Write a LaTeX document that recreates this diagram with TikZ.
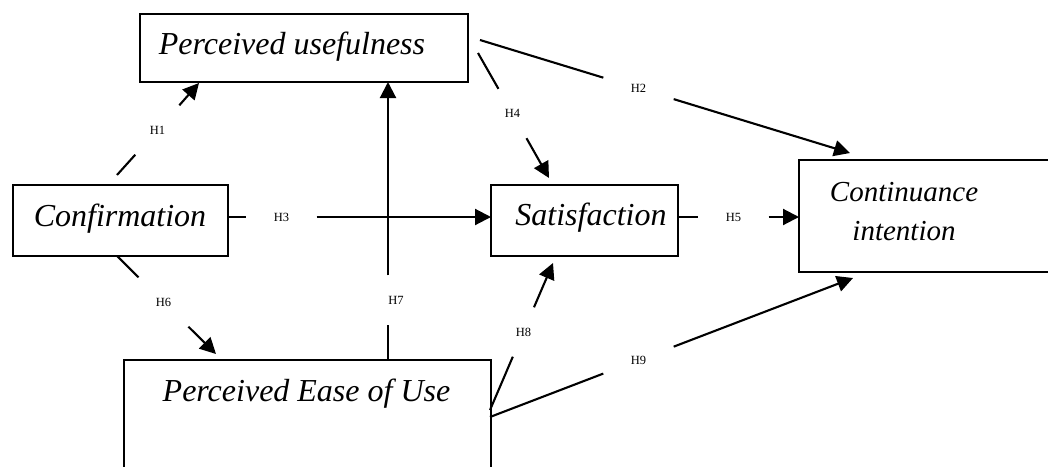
\documentclass[tikz,border=0pt]{standalone}
\usepackage{fontspec}
\setmainfont{Liberation Serif}
\usetikzlibrary{arrows.meta}
\begin{document}
\begin{tikzpicture}[x=1pt,y=-1pt,
  box/.style={draw, line width=2pt, rectangle, inner sep=0pt},
  title/.style={font=\fontsize{32}{39}\selectfont\itshape, inner sep=0pt},
  gap/.style={rectangle, minimum width=70pt, minimum height=49pt, inner sep=0pt,
              font=\fontsize{12.5}{14}\selectfont},
  link/.style={line width=2.1pt, -{Triangle[length=16pt,width=16pt]}}]
\useasboundingbox (0,0) rectangle (1048,466);

% construct boxes
\node[box, minimum width=328pt, minimum height=68pt]  (pu)   at (304,48)    {};
\node[box, minimum width=215pt, minimum height=71pt]  (conf) at (120.5,220.5) {};
\node[box, minimum width=187pt, minimum height=71pt]  (sat)  at (584.5,220.5) {};
\node[box, minimum width=261pt, minimum height=112pt] (ci)   at (929.5,216) {};
\node[box, minimum width=367pt, minimum height=120pt] (peou) at (307.5,420) {};

% box titles
\node[title, anchor=base] (tpu)   at (292,54)  {Perceived usefulness};
\node[title, anchor=base] (tconf) at (120,226) {Confirmation};
\node[title, anchor=base] (tsat)  at (591,225) {Satisfaction};
\node[title, align=center, font=\fontsize{29}{39}\selectfont\itshape] (tci) at (904,212) {Continuance\\intention};
\node[title, anchor=base] (tpeou) at (306.5,401) {Perceived Ease of Use};

% hypothesis labels (each one breaks its connector)
\node[gap] (g1) at (157.5,130)  {H1};
\node[gap] (g2) at (638.5,88.4) {H2};
\node[gap] (g3) at (281.5,217)  {H3};
\node[gap] (g4) at (512.5,113.5){H4};
\node[gap] (g5) at (733.5,217)  {H5};
\node[gap] (g6) at (163.5,302)  {H6};
\node[gap] (g7) at (388,300)    {\hspace*{16pt}H7};
\node[gap] (g8) at (523.4,332)  {H8};
\node[gap] (g9) at (638.5,360.1){H9};

% connector end points
\coordinate (s1) at (117,175);   \coordinate (e1) at (199,83);
\coordinate (s2) at (480,40);    \coordinate (e2) at (850,153);
\coordinate (s3) at (228,217);   \coordinate (e3) at (491,217);
\coordinate (s4) at (478,53);    \coordinate (e4) at (549,178);
\coordinate (s5) at (678,217);   \coordinate (e5) at (799,217);
\coordinate (s6) at (117,256);   \coordinate (e6) at (216,354);
\coordinate (s7) at (388,360);   \coordinate (e7) at (388,82);
\coordinate (s8) at (490,410);   \coordinate (e8) at (553,263);
\coordinate (s9) at (490,417);   \coordinate (e9) at (853,278);

% hypothesis paths
\draw[link] (s1) -- (g1) -- (e1);
\draw[link] (s2) -- (g2) -- (e2);
\draw[link] (s3) -- (g3) -- (e3);
\draw[link] (s4) -- (g4) -- (e4);
\draw[link] (s5) -- (g5) -- (e5);
\draw[link] (s6) -- (g6) -- (e6);
\draw[link] (s7) -- (g7) -- (e7);
\draw[link] (s8) -- (g8) -- (e8);
\draw[link] (s9) -- (g9) -- (e9);
\end{tikzpicture}
\end{document}
